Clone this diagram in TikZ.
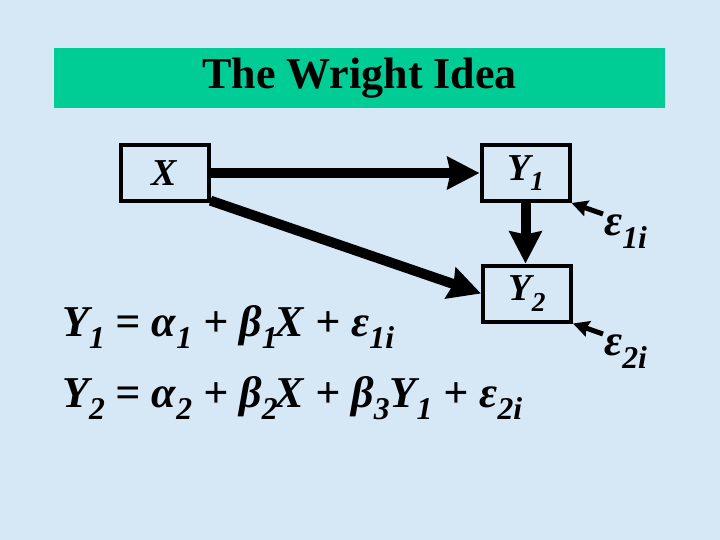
\documentclass[tikz,border=0pt]{standalone}
\usepackage{fontspec}
\setmainfont{Liberation Serif}
\usepackage{graphicx}
\usetikzlibrary{arrows.meta}
\definecolor{bgblue}{RGB}{214,231,246}
\definecolor{titlegreen}{RGB}{0,204,150}
\newcommand{\lo}[1]{\raisebox{-0.28em}{\scalebox{0.72}{#1}}}
\tikzset{
  varbox/.style={draw=black, line width=4pt, minimum width=88pt, minimum height=56pt, inner sep=0pt,
    font=\fontsize{38}{44}\selectfont\bfseries\itshape},
  bigarrow/.style={line width=10pt, -{Stealth[length=32pt,width=32pt,inset=3pt]}},
  errarrow/.style={line width=5pt, -{Stealth[length=16pt,width=16pt,inset=2pt]}},
  errlabel/.style={inner sep=1pt, font=\fontsize{44}{50}\selectfont\bfseries\itshape},
  eqn/.style={anchor=base west, inner sep=0pt, font=\fontsize{44}{50}\selectfont\bfseries\itshape}
}
\begin{document}
\begin{tikzpicture}[x=1pt,y=-1pt]
\fill[bgblue] (0,0) rectangle (720,540);
\useasboundingbox (0,0) rectangle (720,540);
\node[fill=titlegreen, minimum width=611pt, minimum height=60pt, inner sep=0pt,
  font=\fontsize{44}{50}\selectfont\bfseries] (title) at (359.5,78) {The Wright Idea};
\node[varbox] (X) at (164.5,173) {X};
\node[varbox] (Y1) at (525.5,173) {Y\lo{1}};
\node[varbox] (Y2) at (527,293.5) {Y\lo{2}};
\draw[bigarrow] (X.east) -- (Y1.west);
\draw[bigarrow] (X.-31) -- (Y2.west);
\draw[bigarrow] (Y1.south) -- (Y1.south |- Y2.north);
\node[errlabel, anchor=north west] (e1) at (603,214) {ε\lo{1i}};
\node[errlabel, anchor=north west] (e2) at (603,334) {ε\lo{2i}};
\draw[errarrow] (e1.north west) -- (Y1.south east);
\draw[errarrow] (e2.north west) -- (Y2.south east);
\node[eqn] (eq1) at (62,336) {Y\lo{1} = α\lo{1} + β\lo{1}\kern-0.06em X + ε\lo{1i}};
\node[eqn] (eq2) at (62,407) {Y\lo{2} = α\lo{2} + β\lo{2}\kern-0.06em X + β\lo{3}Y\lo{1} + ε\lo{2i}};
\end{tikzpicture}
\end{document}
